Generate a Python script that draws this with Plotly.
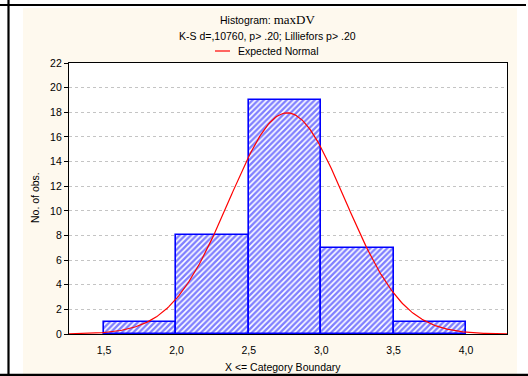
import numpy as np
import plotly.graph_objects as go

# ---------------- data ----------------
bin_edges = [1.5, 2.0, 2.5, 3.0, 3.5, 4.0]
counts = [1, 8, 19, 7, 1]
x_tick_vals = [1.5, 2.0, 2.5, 3.0, 3.5, 4.0]
x_tick_text = ["1,5", "2,0", "2,5", "3,0", "3,5", "4,0"]
y_tick_vals = [0, 2, 4, 6, 8, 10, 12, 14, 16, 18, 20, 22]
# expected normal parameters
norm_mean = 2.765
norm_sd = 0.40
n_obs = sum(counts)
bin_width = 0.5

title_line1 = 'Histogram: <span style="font-family:Liberation Serif;font-size:13px">maxDV</span>'
title_line2 = "K-S d=,10760, p> .20; Lilliefors p> .20"
legend_text = "Expected Normal"
x_title = "X <= Category Boundary"
y_title = "No. of obs."

# ---------------- layout geometry (pixels) ----------------
W, H = 528, 376
L, R, T, B = 69, 507, 63, 334
x_range = [1.258, 4.283]


def px(x):
    return (x - L) / (R - L)


def py(y):
    return (B - y) / (B - T)


FONT = "Liberation Sans, Arial, sans-serif"
CREAM = "#FEF9EE"
BLUE = "#0000FF"

fig = go.Figure()

lefts = bin_edges[:-1]
widths = [bin_edges[i + 1] - bin_edges[i] for i in range(len(counts))]
fig.add_trace(go.Bar(
    x=lefts, y=counts, width=widths, offset=0,
    marker=dict(
        color="white",
        line=dict(color=BLUE, width=1.6),
        pattern=dict(shape="/", fgcolor=BLUE, bgcolor="white", size=4, solidity=0.6),
    ),
    showlegend=False, hoverinfo="skip",
))

xs = np.linspace(x_range[0], x_range[1], 300)
ys = n_obs * bin_width / (norm_sd * np.sqrt(2 * np.pi)) * np.exp(-0.5 * ((xs - norm_mean) / norm_sd) ** 2)
fig.add_trace(go.Scatter(
    x=xs, y=ys, mode="lines", line=dict(color="#FF0000", width=1.2),
    showlegend=False, hoverinfo="skip",
))

shapes = []
# white outer strips
shapes.append(dict(type="rect", xref="paper", yref="paper", x0=px(-5), x1=px(23), y0=py(H + 5), y1=py(-5),
                   fillcolor="white", line=dict(width=0), layer="above"))
shapes.append(dict(type="rect", xref="paper", yref="paper", x0=px(517), x1=px(W + 5), y0=py(H + 5), y1=py(-5),
                   fillcolor="white", line=dict(width=0), layer="above"))
shapes.append(dict(type="rect", xref="paper", yref="paper", x0=px(-5), x1=px(W + 5), y0=py(8), y1=py(-5),
                   fillcolor="white", line=dict(width=0), layer="above"))
# black frame lines
shapes.append(dict(type="line", xref="paper", yref="paper", x0=px(8.5), x1=px(8.5), y0=py(0), y1=py(H),
                   line=dict(color="black", width=2.2), layer="above"))
shapes.append(dict(type="line", xref="paper", yref="paper", x0=px(0), x1=px(526), y0=py(5), y1=py(5),
                   line=dict(color="black", width=2.2), layer="above"))
shapes.append(dict(type="line", xref="paper", yref="paper", x0=px(0), x1=px(W), y0=py(374.8), y1=py(374.8),
                   line=dict(color="black", width=2.2), layer="above"))
# legend sample line
shapes.append(dict(type="line", xref="paper", yref="paper", x0=px(215), x1=px(230), y0=py(51), y1=py(51),
                   line=dict(color="#FF0000", width=1.2), layer="above"))

annotations = [
    dict(text=title_line1, x=px(267), y=py(20), xref="paper", yref="paper", showarrow=False,
         xanchor="center", yanchor="middle", font=dict(family=FONT, size=10.5, color="black")),
    dict(text=title_line2, x=px(267.5), y=py(36), xref="paper", yref="paper", showarrow=False,
         xanchor="center", yanchor="middle", font=dict(family=FONT, size=10.5, color="black")),
    dict(text=legend_text, x=px(236), y=py(51), xref="paper", yref="paper", showarrow=False,
         xanchor="left", yanchor="middle", font=dict(family=FONT, size=10.5, color="black")),
    dict(text=x_title, x=px(283), y=py(366.5), xref="paper", yref="paper", showarrow=False,
         xanchor="center", yanchor="middle", font=dict(family=FONT, size=10.5, color="black")),
    dict(text=y_title, x=px(35), y=py(198), xref="paper", yref="paper", showarrow=False, textangle=-90,
         xanchor="center", yanchor="middle", font=dict(family=FONT, size=10.5, color="black")),
]

fig.update_layout(
    width=W, height=H,
    margin=dict(l=L, r=W - R, t=T, b=H - B, pad=0),
    paper_bgcolor=CREAM, plot_bgcolor="white",
    bargap=0, showlegend=False,
    font=dict(family=FONT, size=10, color="black"),
    shapes=shapes, annotations=annotations,
    xaxis=dict(range=x_range, tickvals=x_tick_vals, ticktext=x_tick_text,
               showgrid=False, zeroline=False, showline=True, linecolor="black", linewidth=1.3,
               mirror=True, ticks="outside", ticklen=6, tickcolor="rgba(0,0,0,0)",
               tickfont=dict(family=FONT, size=10.5)),
    yaxis=dict(range=[0, 22], tickvals=y_tick_vals,
               showgrid=True, gridcolor="#C4C4C4", griddash="dot", gridwidth=1,
               zeroline=False, showline=True, linecolor="black", linewidth=1.3,
               mirror=True, ticks="outside", ticklen=4, tickcolor="black",
               tickfont=dict(family=FONT, size=10.5)),
)

fig.write_html("out.html")
